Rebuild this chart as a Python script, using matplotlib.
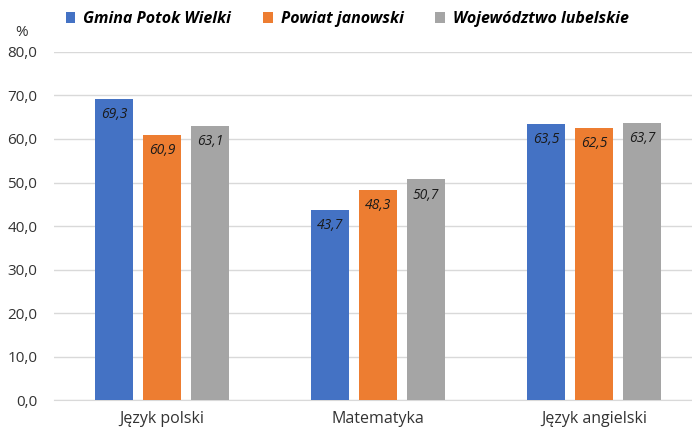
import matplotlib.pyplot as plt
import numpy as np

plt.rcParams['font.family'] = ['Open Sans', 'DejaVu Sans']

categories = ['Język polski', 'Matematyka', 'Język angielski']
series_names = ['Gmina Potok Wielki', 'Powiat janowski', 'Województwo lubelskie']
gmina = [69.3, 43.7, 63.5]
powiat = [60.9, 48.3, 62.5]
wojewodztwo = [63.1, 50.7, 63.7]
colors = ['#4472C4', '#ED7D31', '#A5A5A5']
y_ticks = [0, 10, 20, 30, 40, 50, 60, 70, 80]


def fmt(v):
    return f'{v:.1f}'.replace('.', ',')


def main():
    fig = plt.figure(figsize=(6.92, 4.33), dpi=100)
    ax = fig.add_axes([0.078, 0.076, 0.922, 0.804])

    x = np.arange(len(categories))
    width = 0.176
    step = 0.222
    handles = []
    for i, (vals, name) in enumerate(zip([gmina, powiat, wojewodztwo], series_names)):
        bars = ax.bar(x + (i - 1) * step, vals, width, color=colors[i], label=name, zorder=3)
        handles.append(bars)
        for b, v in zip(bars, vals):
            ax.annotate(fmt(v), (b.get_x() + b.get_width() / 2, v),
                        xytext=(0, -6), textcoords='offset points',
                        ha='center', va='top', fontsize=10, style='italic',
                        color='#1a1a1a', zorder=4)

    ax.set_xlim(-0.5, 2.454)
    ax.set_ylim(0, 80)
    ax.set_yticks(y_ticks)
    ax.set_yticklabels([fmt(t) for t in y_ticks], fontsize=11, color='#333333')
    ax.set_xticks(x)
    ax.set_xticklabels(categories, fontsize=11.5, color='#333333')
    ax.tick_params(length=0, pad=8)
    ax.tick_params(axis='y', pad=12)
    ax.yaxis.grid(True, color='#d9d9d9', linewidth=1, zorder=0)
    for s in ['top', 'right', 'left']:
        ax.spines[s].set_visible(False)
    ax.spines['bottom'].set_color('#d9d9d9')

    fig.text(22 / 692, 1 - 33 / 433, '%', fontsize=11, color='#333333', ha='center', va='center')

    fig.legend(handles=handles, loc='center left', bbox_to_anchor=(0.074, 1 - 19 / 433),
               ncol=3, frameon=False, handlelength=0.6, handleheight=0.7,
               handletextpad=0.5, columnspacing=2.0,
               prop={'size': 11.5, 'weight': 'bold', 'style': 'italic'})

    fig.savefig('out.png', dpi=100)


if __name__ == '__main__':
    main()
